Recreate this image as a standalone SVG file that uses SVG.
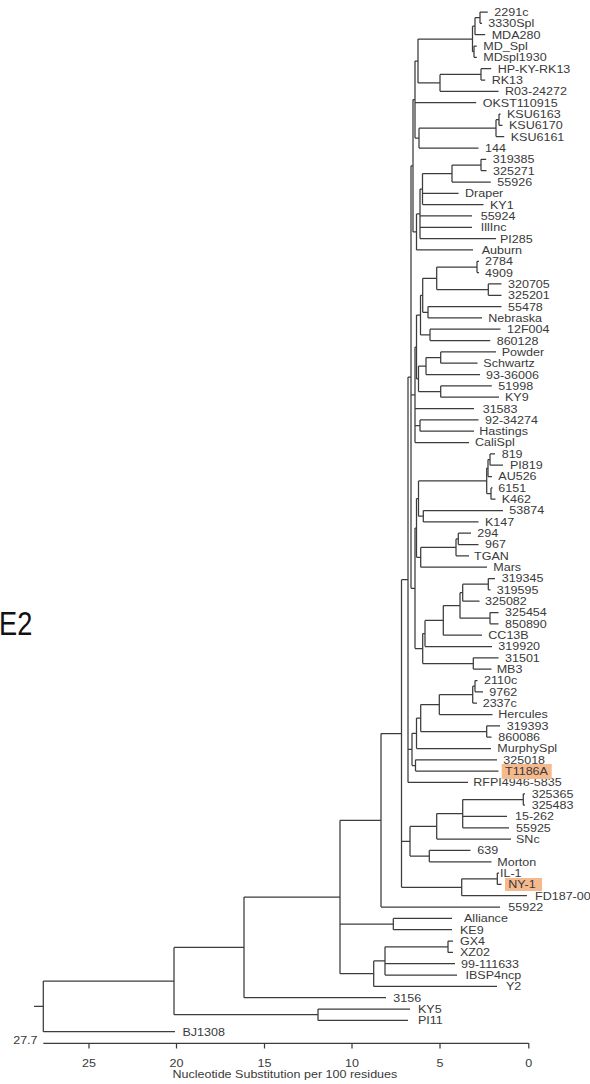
<svg xmlns="http://www.w3.org/2000/svg" width="590" height="1084" viewBox="0 0 590 1084">
<style>
.l{font-family:"Liberation Sans",Arial,sans-serif;font-size:11px;fill:#3a3a3a;transform-box:fill-box;transform-origin:0 50%;transform:scaleX(1.14)}
.e path{fill:none;stroke:#3c3c3c;stroke-width:1.25}
.hl{fill:#f5b98e}
</style>
<rect width="590" height="1084" fill="#fff"/>
<g class="e" id="connectors">
<path d="M480 12V23.3M480 12H487.8M480 23.3H482"/>
<path d="M475 17.7V34.7M475 17.7H480M475 34.7H485.2"/>
<path d="M474 46V57.3M474 46H476.8M474 57.3H476.8"/>
<path d="M472.5 26.2V51.7M472.5 26.2H475M472.5 51.7H474"/>
<path d="M481 68.7V80M481 68.7H491.2M481 80H485.2"/>
<path d="M440 74.4V91.3M440 74.4H481M440 91.3H498.5"/>
<path d="M418 39V82.9M418 39H472.5M418 82.9H440"/>
<path d="M499 114V125.3M499 114H500.5M499 125.3H502.5"/>
<path d="M496 119.7V136.6M496 119.7H499M496 136.6H504.2"/>
<path d="M419 128.2V148M419 128.2H496M419 148H478.5"/>
<path d="M415 61V138.1M415 61H418M415 102.6H476.2M415 138.1H419"/>
<path d="M481 159.3V170.6M481 159.3H486.2M481 170.6H486.5"/>
<path d="M452 165V182M452 165H481M452 182H490.8"/>
<path d="M422.5 173.5V204.6M422.5 173.5H452M422.5 193.3H458.5M422.5 204.6H483.5"/>
<path d="M420 189.1V238.6M420 189.1H422.5M420 215.9H472M420 227.3H472M420 238.6H496"/>
<path d="M416.5 213.9V249.9M416.5 213.9H420M416.5 249.9H473"/>
<path d="M413 99.6V231.9M413 99.6H415M413 231.9H416.5"/>
<path d="M477 261.3V272.6M477 261.3H479M477 272.6H479"/>
<path d="M488.3 283.9V295.3M488.3 283.9H501.5M488.3 295.3H501.5"/>
<path d="M436.7 267V289.6M436.7 267H477M436.7 289.6H488.3"/>
<path d="M428 306.6V317.9M428 306.6H501.5M428 317.9H482"/>
<path d="M422.7 278.3V312.3M422.7 278.3H436.7M422.7 312.3H428"/>
<path d="M430 329.2V340.6M430 329.2H500.5M430 340.6H490.2"/>
<path d="M420.5 295.3V334.9M420.5 295.3H422.7M420.5 334.9H430"/>
<path d="M440.7 351.9V363.2M440.7 351.9H496M440.7 363.2H477.5"/>
<path d="M426 357.6V374.6M426 357.6H440.7M426 374.6H480"/>
<path d="M440.7 385.9V397.2M440.7 385.9H491.8M440.7 397.2H499"/>
<path d="M418.5 366.1V391.6M418.5 366.1H426M418.5 391.6H440.7"/>
<path d="M416.5 315.1V378.9M416.5 315.1H420.5M416.5 378.9H418.5"/>
<path d="M420 419.9V431.2M420 419.9H478.5M420 431.2H474"/>
<path d="M415 347V442.5M415 347H416.5M415 408.6H474M415 425.6H420M415 442.5H469"/>
<path d="M490 453.9V465.2M490 453.9H495M490 465.2H503"/>
<path d="M488 459.6V476.5M488 459.6H490M488 476.5H492"/>
<path d="M491 487.9V499.2M491 487.9H492.5M491 499.2H495.5"/>
<path d="M486.7 468.1V493.6M486.7 468.1H488M486.7 493.6H491"/>
<path d="M423.3 510.5V521.9M423.3 510.5H503M423.3 521.9H478.5"/>
<path d="M418.5 480.9V516.2M418.5 480.9H486.7M418.5 516.2H423.3"/>
<path d="M458.3 533.2V544.5M458.3 533.2H471M458.3 544.5H478.5"/>
<path d="M456 538.9V555.8M456 538.9H458.3M456 555.8H469"/>
<path d="M420.7 547.4V567.2M420.7 547.4H456M420.7 567.2H487"/>
<path d="M416.5 498.6V557.3M416.5 498.6H418.5M416.5 557.3H420.7"/>
<path d="M488.3 578.5V589.8M488.3 578.5H495M488.3 589.8H490.5"/>
<path d="M462.7 584.2V601.2M462.7 584.2H488.3M462.7 601.2H479.5"/>
<path d="M490 612.5V623.8M490 612.5H498.5M490 623.8H498.5"/>
<path d="M460 592.7V618.2M460 592.7H462.7M460 618.2H490"/>
<path d="M443.3 605.5V635.2M443.3 605.5H460M443.3 635.2H482"/>
<path d="M425 620.4V646.5M425 620.4H443.3M425 646.5H492"/>
<path d="M473.3 657.8V669.1M473.3 657.8H498.5M473.3 669.1H491.5"/>
<path d="M422.7 633.5V663.5M422.7 633.5H425M422.7 663.5H473.3"/>
<path d="M415 528V648.5M415 528H416.5M415 648.5H422.7"/>
<path d="M475 680.5V691.8M475 680.5H477.5M475 691.8H483"/>
<path d="M472.7 686.2V703.1M472.7 686.2H475M472.7 703.1H477"/>
<path d="M439.3 694.7V714.5M439.3 694.7H472.7M439.3 714.5H492.5"/>
<path d="M486.7 725.8V737.1M486.7 725.8H500M486.7 737.1H491.5"/>
<path d="M420.7 704.6V731.5M420.7 704.6H439.3M420.7 731.5H486.7"/>
<path d="M416.5 718.1V748.5M416.5 718.1H420.7M416.5 748.5H491"/>
<path d="M415.5 759.8V771.1M415.5 759.8H497M415.5 771.1H498.5"/>
<path d="M412 733.3V765.5M412 733.3H416.5M412 765.5H415.5"/>
<path d="M411 165.8V588.3M411 165.8H413M411 394.8H415M411 588.3H415"/>
<path d="M408 377V782.4M408 377H411M408 749.4H412M408 782.4H468"/>
<path d="M523.3 793.8V805.1M523.3 793.8H525M523.3 805.1H525"/>
<path d="M462.7 799.5V827.8M462.7 799.5H523.3M462.7 816.4H507M462.7 827.8H509"/>
<path d="M436.7 813.6V839.1M436.7 813.6H462.7M436.7 839.1H511"/>
<path d="M429.3 850.4V861.8M429.3 850.4H470.5M429.3 861.8H491.5"/>
<path d="M410 826.4V856.1M410 826.4H436.7M410 856.1H429.3"/>
<path d="M497.3 873.1V884.4M497.3 873.1H499M497.3 884.4H501.5"/>
<path d="M461.7 878.8V895.7M461.7 878.8H497.3M461.7 895.7H527"/>
<path d="M401.5 579.7V887.3M401.5 579.7H408M401.5 841.3H410M401.5 887.3H461.7"/>
<path d="M381 733.5V907.1M381 733.5H401.5M381 907.1H500"/>
<path d="M393.3 918.4V929.7M393.3 918.4H452M393.3 929.7H452"/>
<path d="M448 941.1V952.4M448 941.1H453M448 952.4H453"/>
<path d="M385 946.8V975M385 946.8H448M385 963.7H455M385 975H457"/>
<path d="M373.7 960.9V986.4M373.7 960.9H385M373.7 986.4H497"/>
<path d="M340 820.3V973.7M340 820.3H381M340 924.1H393.3M340 973.7H373.7"/>
<path d="M244 897V997.7M244 897H340M244 997.7H386"/>
<path d="M318 1009V1020.4M318 1009H410M318 1020.4H408"/>
<path d="M174 947.4V1014.7M174 947.4H244M174 1014.7H318"/>
<path d="M43.3 981.1V1031.7M43.3 981.1H174M43.3 1031.7H175M34 1006.4H43.3"/>
</g>
<g id="axis">
<g class="e"><path d="M43.3 1043.3H528.8M89 1043.3V1048.5M176.5 1043.3V1048.5M264.5 1043.3V1048.5M352 1043.3V1048.5M440 1043.3V1048.5M528.8 1043.3V1048.5"/></g>
<text class="l" x="13.2" y="1044">27.7</text>
<text class="l" x="82" y="1067">25</text>
<text class="l" x="169.5" y="1067">20</text>
<text class="l" x="257.5" y="1067">15</text>
<text class="l" x="345" y="1067">10</text>
<text class="l" x="436.5" y="1067">5</text>
<text class="l" x="525.3" y="1067">0</text>
<text class="l" x="172.4" y="1078">Nucleotide Substitution per 100 residues</text>
</g>
<g id="leaf-01"><text class="l" x="494.3" y="16">2291c</text></g>
<g id="leaf-02"><text class="l" x="488.3" y="27.3">3330Spl</text></g>
<g id="leaf-03"><text class="l" x="491.7" y="38.7">MDA280</text></g>
<g id="leaf-04"><text class="l" x="483.3" y="50">MD_Spl</text></g>
<g id="leaf-05"><text class="l" x="483.3" y="61.3">MDspl1930</text></g>
<g id="leaf-06"><text class="l" x="497.7" y="72.7">HP-KY-RK13</text></g>
<g id="leaf-07"><text class="l" x="491.7" y="84">RK13</text></g>
<g id="leaf-08"><text class="l" x="505" y="95.3">R03-24272</text></g>
<g id="leaf-09"><text class="l" x="482.7" y="106.6">OKST110915</text></g>
<g id="leaf-10"><text class="l" x="507" y="118">KSU6163</text></g>
<g id="leaf-11"><text class="l" x="509" y="129.3">KSU6170</text></g>
<g id="leaf-12"><text class="l" x="510.7" y="140.6">KSU6161</text></g>
<g id="leaf-13"><text class="l" x="485" y="152">144</text></g>
<g id="leaf-14"><text class="l" x="492.7" y="163.3">319385</text></g>
<g id="leaf-15"><text class="l" x="493" y="174.6">325271</text></g>
<g id="leaf-16"><text class="l" x="497.3" y="186">55926</text></g>
<g id="leaf-17"><text class="l" x="465" y="197.3">Draper</text></g>
<g id="leaf-18"><text class="l" x="490" y="208.6">KY1</text></g>
<g id="leaf-19"><text class="l" x="480.7" y="219.9">55924</text></g>
<g id="leaf-20"><text class="l" x="480.7" y="231.3">IllInc</text></g>
<g id="leaf-21"><text class="l" x="500" y="242.6">PI285</text></g>
<g id="leaf-22"><text class="l" x="481.7" y="253.9">Auburn</text></g>
<g id="leaf-23"><text class="l" x="485" y="265.3">2784</text></g>
<g id="leaf-24"><text class="l" x="485" y="276.6">4909</text></g>
<g id="leaf-25"><text class="l" x="508" y="287.9">320705</text></g>
<g id="leaf-26"><text class="l" x="508" y="299.3">325201</text></g>
<g id="leaf-27"><text class="l" x="508" y="310.6">55478</text></g>
<g id="leaf-28"><text class="l" x="488.3" y="321.9">Nebraska</text></g>
<g id="leaf-29"><text class="l" x="507" y="333.2">12F004</text></g>
<g id="leaf-30"><text class="l" x="496.7" y="344.6">860128</text></g>
<g id="leaf-31"><text class="l" x="501.7" y="355.9">Powder</text></g>
<g id="leaf-32"><text class="l" x="483.3" y="367.2">Schwartz</text></g>
<g id="leaf-33"><text class="l" x="486" y="378.6">93-36006</text></g>
<g id="leaf-34"><text class="l" x="498.3" y="389.9">51998</text></g>
<g id="leaf-35"><text class="l" x="505" y="401.2">KY9</text></g>
<g id="leaf-36"><text class="l" x="482.7" y="412.6">31583</text></g>
<g id="leaf-37"><text class="l" x="485" y="423.9">92-34274</text></g>
<g id="leaf-38"><text class="l" x="479.3" y="435.2">Hastings</text></g>
<g id="leaf-39"><text class="l" x="475" y="446.5">CaliSpl</text></g>
<g id="leaf-40"><text class="l" x="501.7" y="457.9">819</text></g>
<g id="leaf-41"><text class="l" x="510" y="469.2">PI819</text></g>
<g id="leaf-42"><text class="l" x="498.3" y="480.5">AU526</text></g>
<g id="leaf-43"><text class="l" x="498.3" y="491.9">6151</text></g>
<g id="leaf-44"><text class="l" x="501.7" y="503.2">K462</text></g>
<g id="leaf-45"><text class="l" x="509.3" y="514.5">53874</text></g>
<g id="leaf-46"><text class="l" x="485" y="525.9">K147</text></g>
<g id="leaf-47"><text class="l" x="477.3" y="537.2">294</text></g>
<g id="leaf-48"><text class="l" x="485" y="548.5">967</text></g>
<g id="leaf-49"><text class="l" x="474" y="559.8">TGAN</text></g>
<g id="leaf-50"><text class="l" x="493.3" y="571.2">Mars</text></g>
<g id="leaf-51"><text class="l" x="501.7" y="582.5">319345</text></g>
<g id="leaf-52"><text class="l" x="496.7" y="593.8">319595</text></g>
<g id="leaf-53"><text class="l" x="485" y="605.2">325082</text></g>
<g id="leaf-54"><text class="l" x="505" y="616.5">325454</text></g>
<g id="leaf-55"><text class="l" x="505" y="627.8">850890</text></g>
<g id="leaf-56"><text class="l" x="488.3" y="639.2">CC13B</text></g>
<g id="leaf-57"><text class="l" x="498.3" y="650.5">319920</text></g>
<g id="leaf-58"><text class="l" x="505" y="661.8">31501</text></g>
<g id="leaf-59"><text class="l" x="496.7" y="673.1">MB3</text></g>
<g id="leaf-60"><text class="l" x="484" y="684.5">2110c</text></g>
<g id="leaf-61"><text class="l" x="489.3" y="695.8">9762</text></g>
<g id="leaf-62"><text class="l" x="482.7" y="707.1">2337c</text></g>
<g id="leaf-63"><text class="l" x="498.3" y="718.5">Hercules</text></g>
<g id="leaf-64"><text class="l" x="506.7" y="729.8">319393</text></g>
<g id="leaf-65"><text class="l" x="498.3" y="741.1">860086</text></g>
<g id="leaf-66"><text class="l" x="497.3" y="752.5">MurphySpl</text></g>
<g id="leaf-67"><text class="l" x="503.3" y="763.8">325018</text></g>
<g id="leaf-69"><text class="l" x="473.3" y="786.4">RFPI4946-5835</text></g>
<g id="leaf-70"><text class="l" x="531.7" y="797.8">325365</text></g>
<g id="leaf-71"><text class="l" x="531.7" y="809.1">325483</text></g>
<g id="leaf-72"><text class="l" x="515" y="820.4">15-262</text></g>
<g id="leaf-73"><text class="l" x="516" y="831.8">55925</text></g>
<g id="leaf-74"><text class="l" x="516" y="843.1">SNc</text></g>
<g id="leaf-75"><text class="l" x="477.3" y="854.4">639</text></g>
<g id="leaf-76"><text class="l" x="497.3" y="865.8">Morton</text></g>
<g id="leaf-77"><text class="l" x="500" y="877.1">IL-1</text></g>
<g id="leaf-68"><rect class="hl" x="501.7" y="764" width="50" height="15"/><text class="l" x="505" y="775.1">T1186A</text></g>
<g id="leaf-78"><rect class="hl" x="505" y="878" width="37" height="13"/><text class="l" x="508.3" y="888.4">NY-1</text></g>
<g id="leaf-79"><text class="l" x="535" y="899.7">FD187-00</text></g>
<g id="leaf-80"><text class="l" x="508.3" y="911.1">55922</text></g>
<g id="leaf-81"><text class="l" x="464" y="922.4">Alliance</text></g>
<g id="leaf-82"><text class="l" x="460" y="933.7">KE9</text></g>
<g id="leaf-83"><text class="l" x="460" y="945.1">GX4</text></g>
<g id="leaf-84"><text class="l" x="460" y="956.4">XZ02</text></g>
<g id="leaf-85"><text class="l" x="461" y="967.7">99-111633</text></g>
<g id="leaf-86"><text class="l" x="465.5" y="979">IBSP4ncp</text></g>
<g id="leaf-87"><text class="l" x="506" y="990.4">Y2</text></g>
<g id="leaf-88"><text class="l" x="393.3" y="1001.7">3156</text></g>
<g id="leaf-89"><text class="l" x="418" y="1013">KY5</text></g>
<g id="leaf-90"><text class="l" x="418" y="1024.4">PI11</text></g>
<g id="leaf-91"><text class="l" x="182.5" y="1035.7">BJ1308</text></g>
<g id="label-E2"><text x="-1" y="635" style="font-family:'Liberation Sans',Arial,sans-serif;font-size:34px;fill:#111;transform-box:fill-box;transform-origin:0 50%;transform:scaleX(0.8)">E2</text></g>
</svg>
